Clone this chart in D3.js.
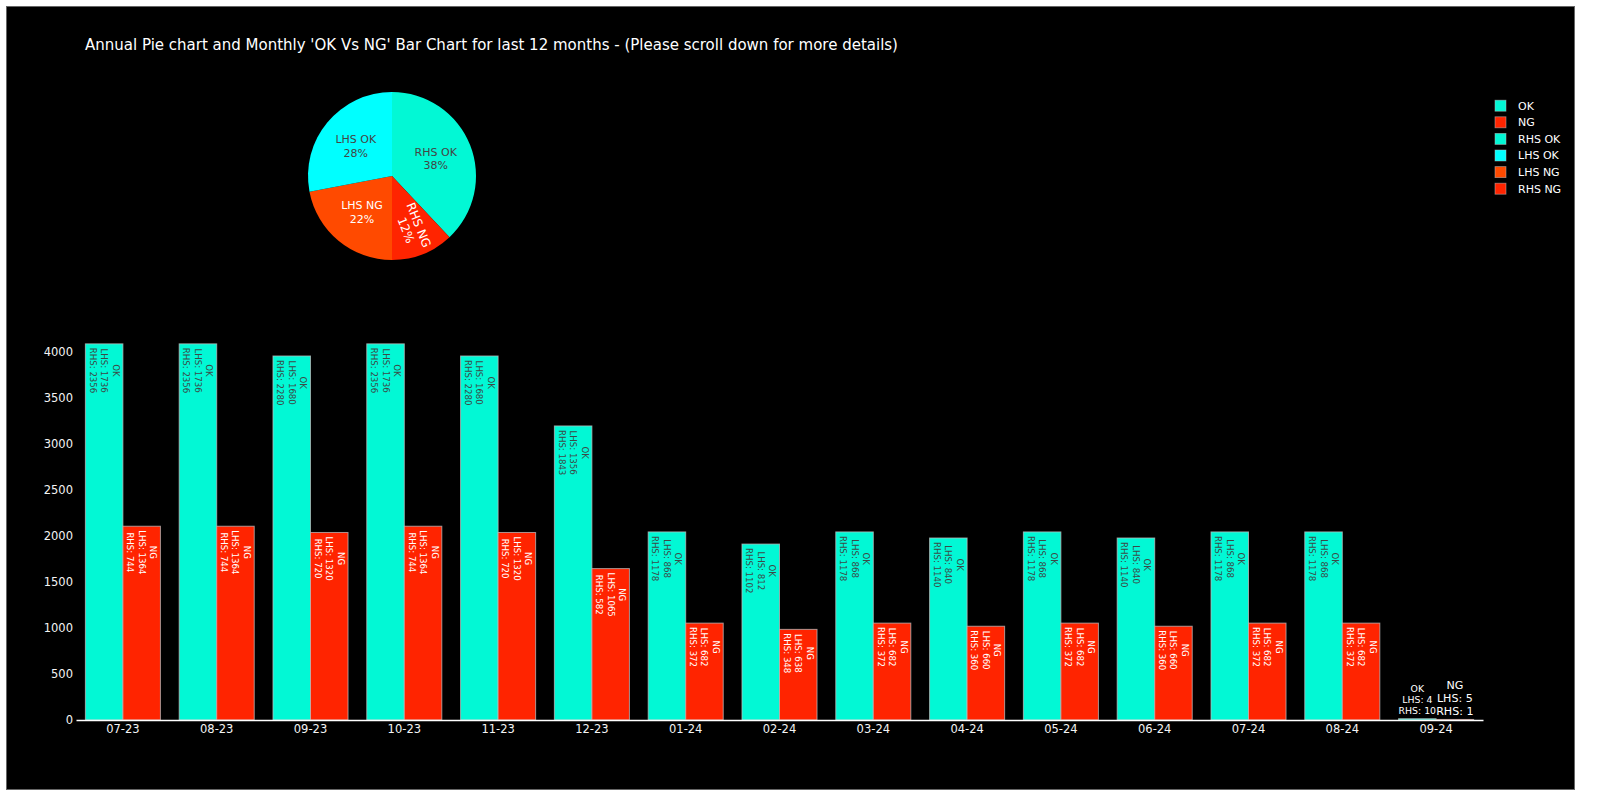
<!DOCTYPE html>
<html>
<head>
<meta charset="utf-8">
<script src="https://cdn.jsdelivr.net/npm/d3@7"></script>
<style>
  html, body { margin: 0; padding: 0; background: #ffffff; }
  svg { display: block; }
</style>
</head>
<body>
<svg id="chart" width="1600" height="801"></svg>
<script>
// ---------- DATA ----------
const months = ['07-23','08-23','09-23','10-23','11-23','12-23','01-24','02-24','03-24','04-24','05-24','06-24','07-24','08-24','09-24'];
const okLHS = [1736,1736,1680,1736,1680,1356,868,812,868,840,868,840,868,868,4];
const okRHS = [2356,2356,2280,2356,2280,1843,1178,1102,1178,1140,1178,1140,1178,1178,10];
const ngLHS = [1364,1364,1320,1364,1320,1065,682,638,682,660,682,660,682,682,5];
const ngRHS = [744,744,720,744,720,582,372,348,372,360,372,360,372,372,1];
const yTicks = [0,500,1000,1500,2000,2500,3000,3500,4000];

const pieLabels = ['RHS OK','RHS NG','LHS NG','LHS OK'];
const pieValues = [38,12,22,28];
const pieColors = ['#02F8D5','#FF2400','#FF4A00','#00FFFF'];
const pieTextColors = ['#444','#fff','#fff','#444'];

const legendLabels = ['OK','NG','RHS OK','LHS OK','LHS NG','RHS NG'];
const legendColors = ['#02F8D5','#FF2400','#02F8D5','#00FFFF','#FF4A00','#FF2400'];

const titleText = "Annual Pie chart and Monthly 'OK Vs NG' Bar Chart for last 12 months - (Please scroll down for more details)";

const OK_COLOR = '#02F8D5';
const NG_COLOR = '#FF2400';
const FONT = "'DejaVu Sans', Verdana, sans-serif";

// ---------- SETUP ----------
const svg = d3.select('#chart');
svg.append('rect').attr('x',0).attr('y',0).attr('width',1600).attr('height',801).attr('fill','#fff');
svg.append('rect').attr('x',6.5).attr('y',6.5).attr('width',1568).attr('height',783)
  .attr('fill','#000').attr('stroke','#666').attr('stroke-width',1);

// Title
const title = svg.append('text')
  .attr('x',85).attr('y',50)
  .attr('fill','#fff')
  .style('font-family',FONT).style('font-size','15px')
  .text(titleText);
{
  const len = title.node().getComputedTextLength();
  title.style('font-size', (15*813/len).toFixed(2)+'px');
}

// ---------- BAR CHART ----------
const plotLeft = 76, plotRight = 1483, plotBottom = 720;
const x0 = d3.scaleBand().domain(months).range([plotLeft, plotRight]).paddingInner(0.2).paddingOuter(0.1);
const x1 = d3.scaleBand().domain(['OK','NG']).range([0, x0.bandwidth()]).padding(0);
const y = d3.scaleLinear().domain([0, 4308]).range([plotBottom, 324]);

const data = months.map((m,i)=>({
  m,
  okL: okLHS[i], okR: okRHS[i], ngL: ngLHS[i], ngR: ngRHS[i],
  ok: okLHS[i]+okRHS[i], ng: ngLHS[i]+ngRHS[i]
}));

const seriesDefs = [
  {key:'OK', color: OK_COLOR, text:'#3c4a47', val:d=>d.ok, lines:d=>['OK','LHS: '+d.okL,'RHS: '+d.okR]},
  {key:'NG', color: NG_COLOR, text:'#fff', val:d=>d.ng, lines:d=>['NG','LHS: '+d.ngL,'RHS: '+d.ngR]}
];

// Y axis
const yAxis = d3.axisLeft(y).tickValues(yTicks).tickFormat(d3.format('d')).tickSize(0).tickPadding(3);
const gy = svg.append('g').attr('transform',`translate(${plotLeft},0)`).call(yAxis);
gy.select('.domain').remove();
gy.selectAll('text').attr('fill','#f4f4f4').style('font-family',FONT).style('font-size','11.5px');

const barsG = svg.append('g');
const labelsG = svg.append('g');

data.forEach(d=>{
  seriesDefs.forEach(s=>{
    const v = s.val(d);
    const bx = x0(d.m) + x1(s.key);
    const bw = x1.bandwidth();
    const top = y(v);
    barsG.append('rect')
      .attr('x',bx).attr('y',top).attr('width',bw).attr('height',Math.max(0,plotBottom-top))
      .attr('fill',s.color)
      .attr('stroke','rgba(190,190,190,0.75)').attr('stroke-width',1);

    const lines = s.lines(d);
    const cx = bx + bw/2;
    const insideFont = 8.6, insideSpacing = 11.5;
    const g = labelsG.append('g');
    const texts = lines.map((t)=> g.append('text')
      .attr('text-anchor','middle')
      .attr('fill',s.text)
      .style('font-family',FONT).style('font-size',insideFont+'px')
      .text(t));
    const maxLen = d3.max(texts, t=>t.node().getComputedTextLength());
    const barH = plotBottom - top;
    if (barH > maxLen + 8) {
      texts.forEach((t,i)=>{
        t.attr('x',0).attr('y',(i-1)*insideSpacing).attr('dy','0.35em');
      });
      g.attr('transform',`translate(${cx},${top+4+maxLen/2}) rotate(90)`);
    } else {
      g.remove();
      const og = labelsG.append('g');
      let fs = 11.5;
      const ot = lines.map(t=> og.append('text')
        .attr('text-anchor','middle').attr('fill','#fff')
        .style('font-family',FONT).style('font-size',fs+'px').text(t));
      const ml = d3.max(ot, t=>t.node().getComputedTextLength());
      if (ml > bw) fs = fs*bw/ml;
      const sp = fs*1.18;
      ot.forEach((t,i)=>{
        t.style('font-size',fs+'px')
         .attr('x',cx)
         .attr('y', top - 4.5 - (lines.length-1-i)*sp);
      });
    }
  });
});

// X axis
const xAxis = d3.axisBottom(x0).tickSize(0).tickSizeOuter(0).tickPadding(5);
const gx = svg.append('g').attr('transform',`translate(0,${plotBottom})`).call(xAxis);
gx.select('.domain').attr('stroke','#fff').attr('stroke-width',1.6);
gx.selectAll('text').attr('fill','#f4f4f4').style('font-family',FONT).style('font-size','11.5px');

// ---------- PIE ----------
const pcx = 392, pcy = 176, pr = 84;
const pie = d3.pie().sort(null).value(v=>v)(pieValues);
const arc = d3.arc().innerRadius(0).outerRadius(pr);
const pieG = svg.append('g').attr('transform',`translate(${pcx},${pcy})`);
pieG.selectAll('path').data(pie).join('path')
  .attr('d',arc).attr('fill',(d,i)=>pieColors[i]);

pie.forEach((d,i)=>{
  const mid = (d.startAngle + d.endAngle)/2;
  const small = (d.endAngle - d.startAngle) < 0.9;
  const frac = small ? 0.66 : 0.56;
  const lx = Math.sin(mid)*pr*frac, ly = -Math.cos(mid)*pr*frac;
  const tg = pieG.append('g');
  const lines = [pieLabels[i], pieValues[i]+'%'];
  lines.forEach((t,j)=>{
    tg.append('text').attr('text-anchor','middle')
      .attr('x',0).attr('y',(j-0.5)*13.7).attr('dy','0.35em')
      .attr('fill',pieTextColors[i])
      .style('font-family',FONT).style('font-size', small ? '12px' : '11px')
      .text(t);
  });
  if (small) {
    const deg = (mid*180/Math.PI) - 90;
    tg.attr('transform',`translate(${lx},${ly}) rotate(${deg})`);
  } else {
    tg.attr('transform',`translate(${lx},${ly})`);
  }
});

// ---------- LEGEND ----------
const lg = svg.append('g');
legendLabels.forEach((l,i)=>{
  const cy = 105.7 + i*16.6;
  lg.append('rect').attr('x',1495).attr('y',cy-5.5).attr('width',11).attr('height',11)
    .attr('fill',legendColors[i]).attr('stroke','rgba(190,190,190,0.6)').attr('stroke-width',0.8);
  lg.append('text').attr('x',1518).attr('y',cy).attr('dy','0.35em')
    .attr('fill','#fff').style('font-family',FONT).style('font-size','11px').text(l);
});
</script>
</body>
</html>
